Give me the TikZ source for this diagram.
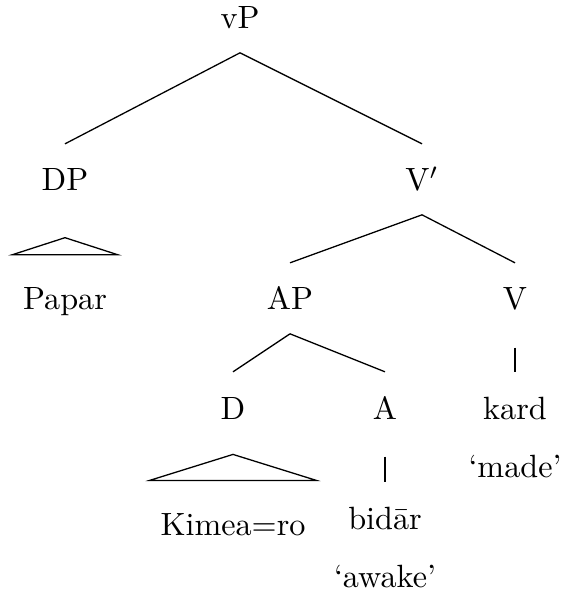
\documentclass[tikz,border=0pt]{standalone}
\usepackage{tikz}
\usetikzlibrary{positioning}

\begin{document}
\begin{tikzpicture}[x=0.3106pt,y=-0.3106pt,
                    cat/.style={anchor=base,text height=14.45pt,text depth=7.2pt,
                                inner ysep=0pt,inner xsep=3.2pt},
                    bar/.style={shorten <=4.3pt}]
  \useasboundingbox (0,0) rectangle (568,594);

  \node[cat] (vP) at (240,29) {vP};
  \node[cat] (DP) at (65,191) {DP};
  \node[cat] (Vbar) at (422,191) {V$'$};
  \node[cat] (Papar) at (65,310) {Papar};
  \node[cat] (AP) at (290,310) {AP};
  \node[cat] (V) at (515,310) {V};
  \node[cat] (D) at (233,419) {D};
  \node[cat] (A) at (385,419) {A};
  \node[cat] (kard) at (515,419) {kard};
  \node[cat] (made) at (515,477) {`made'};
  \node[cat] (Kimea) at (233,535) {Kimea=ro};
  \node[cat] (bidar) at (385,529) {bidār};
  \node[cat] (awake) at (385,587) {`awake'};

  \path (vP.south) edge (DP.north) edge (Vbar.north)
        (Vbar.south) edge (AP.north) edge (V.north)
        (AP.south) edge (D.north) edge (A.north);
  \draw[bar] (V.south) -- (kard.north);
  \draw[bar] (A.south) -- (bidar.north);

  % roofs
  \draw ([yshift=-7.1pt]DP.south) -- ([yshift=2.5pt]Papar.north west)
        -- ([yshift=2.5pt]Papar.north east) -- cycle;
  \draw ([yshift=-3.6pt]D.south) -- ([yshift=2.3pt]Kimea.north west)
        -- ([yshift=2.3pt]Kimea.north east) -- cycle;
\end{tikzpicture}
\end{document}
